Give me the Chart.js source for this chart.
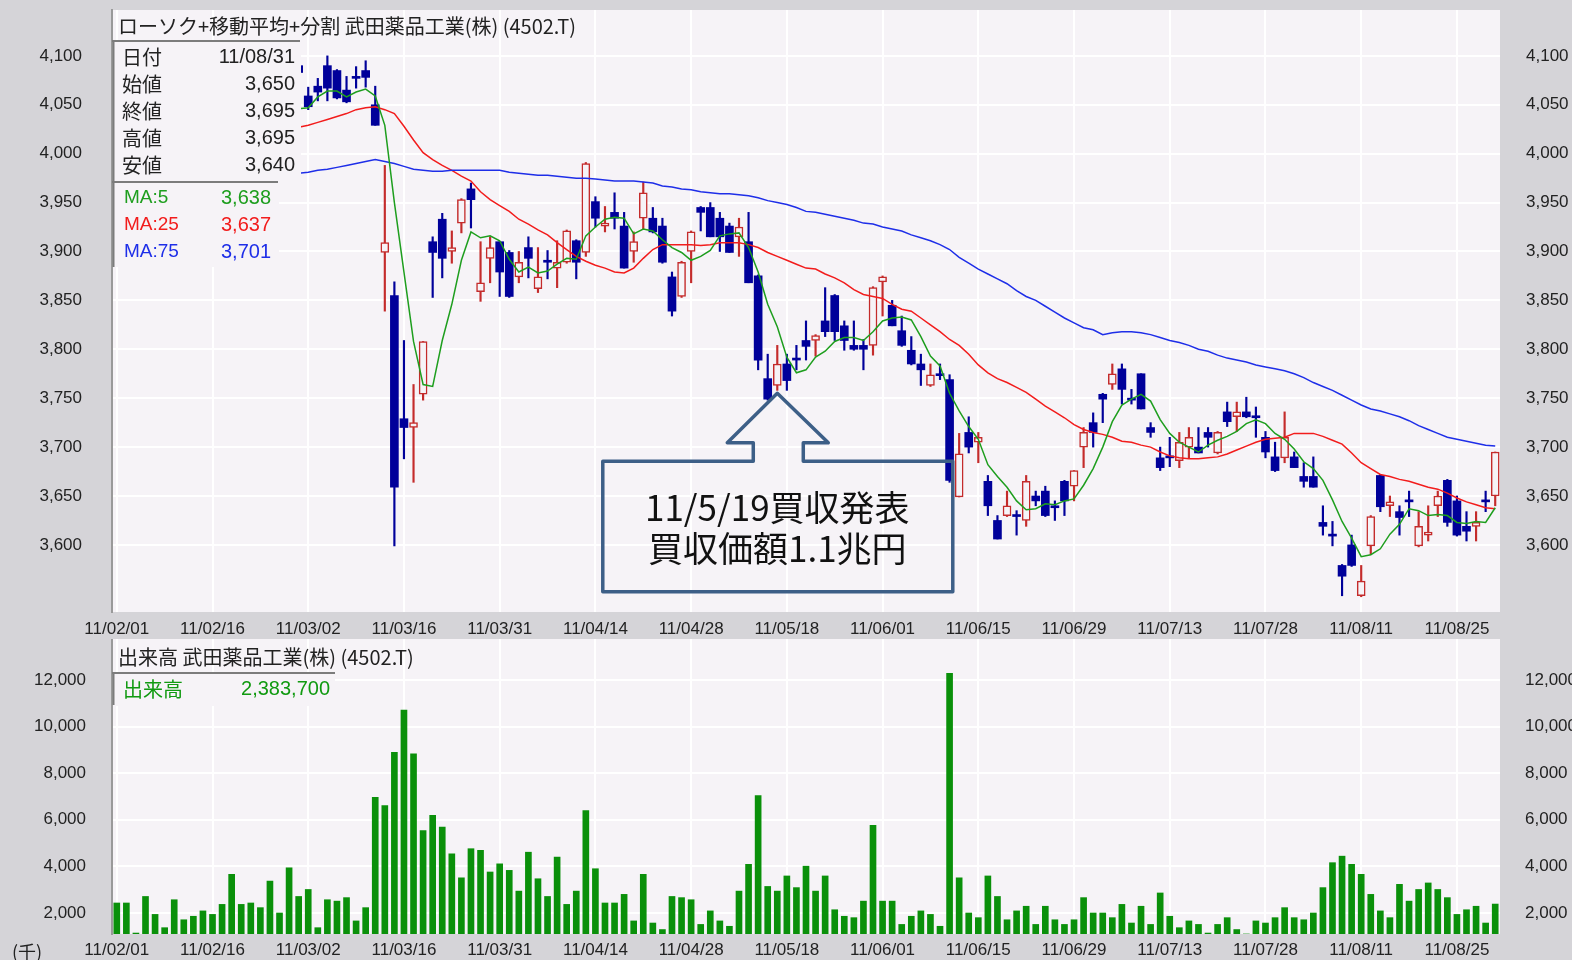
<!DOCTYPE html>
<html><head><meta charset="utf-8">
<script src="https://cdn.jsdelivr.net/npm/chart.js@4.4.1/dist/chart.umd.min.js"></script>
<style>
html,body{margin:0;padding:0;background:#d5d4d8;}
#wrap{position:relative;width:1572px;height:960px;overflow:hidden;background:#d5d4d8;}
#c1{position:absolute;left:0;top:0;}
#c2{position:absolute;left:0;top:639px;}
</style></head><body>
<div id="wrap">
<canvas id="c1" width="1572" height="639"></canvas>
<canvas id="c2" width="1572" height="321"></canvas>
</div>
<script>
// ---------- data ----------
const DATES = [
'11/02/01','11/02/02','11/02/03','11/02/04','11/02/07','11/02/08','11/02/09','11/02/10','11/02/14','11/02/15',
'11/02/16','11/02/17','11/02/18','11/02/21','11/02/22','11/02/23','11/02/24','11/02/25','11/02/28',
'11/03/01','11/03/02','11/03/03','11/03/04','11/03/07','11/03/08','11/03/09','11/03/10','11/03/11','11/03/14',
'11/03/15','11/03/16','11/03/17','11/03/18','11/03/22','11/03/23','11/03/24','11/03/25','11/03/28','11/03/29',
'11/03/30','11/03/31',
'11/04/01','11/04/04','11/04/05','11/04/06','11/04/07','11/04/08','11/04/11','11/04/12','11/04/13','11/04/14',
'11/04/15','11/04/18','11/04/19','11/04/20','11/04/21','11/04/22','11/04/25','11/04/26','11/04/27','11/04/28',
'11/05/02','11/05/06','11/05/09','11/05/10','11/05/11','11/05/12','11/05/13','11/05/16','11/05/17','11/05/18',
'11/05/19','11/05/20','11/05/23','11/05/24','11/05/25','11/05/26','11/05/27','11/05/30','11/05/31',
'11/06/01','11/06/02','11/06/03','11/06/06','11/06/07','11/06/08','11/06/09','11/06/10','11/06/13','11/06/14',
'11/06/15','11/06/16','11/06/17','11/06/20','11/06/21','11/06/22','11/06/23','11/06/24','11/06/27','11/06/28',
'11/06/29','11/06/30',
'11/07/01','11/07/04','11/07/05','11/07/06','11/07/07','11/07/08','11/07/11','11/07/12','11/07/13','11/07/14',
'11/07/15','11/07/19','11/07/20','11/07/21','11/07/22','11/07/25','11/07/26','11/07/27','11/07/28','11/07/29',
'11/08/01','11/08/02','11/08/03','11/08/04','11/08/05','11/08/08','11/08/09','11/08/10','11/08/11','11/08/12',
'11/08/15','11/08/16','11/08/17','11/08/18','11/08/19','11/08/22','11/08/23','11/08/24','11/08/25','11/08/26',
'11/08/29','11/08/30','11/08/31'
];
const DATE_TICKS = ['11/02/01','11/02/16','11/03/02','11/03/16','11/03/31','11/04/14','11/04/28','11/05/18',
'11/06/01','11/06/15','11/06/29','11/07/13','11/07/28','11/08/11','11/08/25'];

const N = null;
const OPEN = [N,N,N,N,N,N,N,N,N,N,N,N,N,N,N,N,N,N,N,
4090,4059,4069,4090,4085,4065,4079,4085,4050,3899,
3855,3729,3720,3754,3910,3933,3900,3929,3964,3859,
3893,3910,3899,3874,3904,3862,3890,3883,3889,3911,
3899,3951,3926,3940,3926,3900,3934,3934,3926,3874,
3854,3900,3945,3945,3934,3926,3915,3910,3875,3770,
3763,3785,3791,3809,3809,3829,3855,3824,3804,3804,
3804,3869,3845,3819,3799,3785,3763,3774,3769,3649,
3715,3705,3665,3625,3630,3630,3625,3650,3655,3640,
3665,3660,3700,3725,3754,3764,3780,3750,3775,3720,
3689,3690,3686,3700,3700,3715,3694,3736,3731,3736,
3731,3710,3690,3689,3690,3670,3670,3623,3610,3579,
3600,3548,3599,3671,3640,3634,3645,3599,3610,3640,
3666,3645,3619,3619,3645,3650];
const HIGH = [N,N,N,N,N,N,N,N,N,N,N,N,N,N,N,N,N,N,N,
4092,4068,4077,4100,4086,4079,4089,4095,4069,3988,
3869,3809,3764,3808,3915,3939,3921,3954,3970,3910,
3915,3910,3901,3900,3915,3904,3901,3911,3922,3912,
3991,3956,3946,3960,3940,3920,3971,3945,3934,3879,
3890,3921,3946,3950,3940,3929,3934,3940,3876,3795,
3804,3795,3804,3829,3815,3863,3856,3829,3829,3810,
3864,3875,3850,3834,3813,3795,3785,3785,3774,3714,
3731,3715,3671,3630,3655,3635,3671,3655,3660,3645,
3666,3676,3720,3735,3755,3785,3785,3759,3775,3725,
3700,3710,3715,3720,3720,3720,3716,3746,3746,3751,
3741,3716,3705,3736,3695,3684,3690,3640,3624,3580,
3610,3579,3630,3672,3650,3640,3655,3634,3640,3655,
3667,3650,3634,3634,3655,3695];
const LOW = [N,N,N,N,N,N,N,N,N,N,N,N,N,N,N,N,N,N,N,
4081,4045,4054,4054,4056,4052,4067,4068,4029,3839,
3599,3688,3664,3748,3853,3873,3888,3919,3924,3849,
3868,3854,3853,3868,3873,3858,3872,3863,3888,3872,
3895,3925,3920,3923,3883,3889,3923,3919,3888,3834,
3853,3868,3921,3915,3900,3899,3895,3868,3779,3748,
3758,3758,3779,3789,3793,3813,3809,3799,3799,3779,
3794,3834,3824,3803,3784,3763,3762,3769,3664,3649,
3694,3684,3630,3606,3629,3610,3619,3640,3629,3625,
3630,3645,3679,3700,3725,3759,3744,3744,3739,3710,
3676,3680,3679,3689,3694,3700,3693,3721,3716,3730,
3710,3689,3675,3684,3679,3659,3659,3610,3599,3548,
3578,3547,3590,3634,3629,3610,3629,3598,3604,3629,
3619,3609,3604,3604,3634,3640];
const CLOSE = [N,N,N,N,N,N,N,N,N,N,N,N,N,N,N,N,N,N,N,
4083,4048,4063,4067,4057,4053,4077,4078,4029,3909,
3659,3720,3725,3808,3899,3893,3904,3953,3953,3868,
3904,3879,3854,3889,3893,3874,3889,3889,3921,3889,
3990,3934,3929,3934,3883,3910,3960,3920,3889,3839,
3889,3920,3940,3915,3915,3899,3925,3868,3789,3749,
3785,3768,3789,3803,3814,3818,3818,3809,3800,3800,
3863,3874,3824,3804,3785,3779,3774,3773,3666,3693,
3700,3710,3640,3606,3640,3629,3665,3645,3630,3638,
3645,3676,3715,3715,3749,3775,3759,3748,3739,3715,
3679,3689,3705,3710,3694,3710,3715,3726,3736,3731,
3730,3695,3676,3710,3679,3665,3659,3619,3609,3568,
3579,3563,3629,3639,3644,3628,3644,3619,3613,3650,
3623,3610,3614,3623,3644,3695];
const MA5 = [N,N,N,N,N,N,N,N,N,N,N,N,N,N,N,N,N,N,N,
4046,4047,4058,4064,4064,4058,4063,4066,4059,4029,
3950,3879,3808,3764,3762,3809,3846,3891,3920,3914,
3916,3911,3892,3879,3884,3878,3880,3887,3893,3892,
3916,3925,3933,3935,3934,3918,3923,3921,3912,3904,
3899,3891,3895,3901,3916,3918,3919,3904,3879,3846,
3823,3792,3776,3779,3792,3798,3808,3812,3812,3809,
3818,3829,3832,3833,3830,3813,3793,3783,3755,3737,
3721,3708,3682,3670,3659,3645,3636,3637,3642,3641,
3645,3647,3661,3678,3700,3726,3743,3749,3754,3747,
3728,3714,3705,3700,3695,3702,3707,3711,3716,3724,
3728,3724,3714,3708,3698,3685,3678,3666,3646,3624,
3607,3588,3590,3596,3611,3621,3637,3635,3630,3631,
3630,3623,3622,3624,3623,3638];
const MA25 = [N,N,N,N,N,N,N,N,N,N,N,N,N,N,N,N,N,N,N,
4027,4029,4032,4035,4038,4041,4045,4047,4048,4045,
4041,4028,4014,4001,3994,3988,3983,3977,3972,3961,
3953,3947,3941,3933,3928,3922,3917,3909,3902,3895,
3890,3886,3883,3879,3878,3883,3893,3902,3907,3907,
3907,3907,3906,3907,3909,3909,3909,3907,3904,3899,
3895,3891,3887,3883,3882,3877,3873,3868,3861,3856,
3854,3852,3846,3841,3839,3832,3825,3818,3810,3804,
3795,3784,3776,3770,3766,3761,3756,3749,3742,3736,
3730,3723,3718,3715,3713,3710,3706,3705,3702,3700,
3695,3691,3689,3688,3688,3689,3690,3693,3697,3701,
3705,3708,3709,3710,3714,3714,3714,3711,3707,3703,
3694,3684,3678,3672,3670,3667,3665,3662,3659,3657,
3653,3648,3644,3641,3638,3637];
const MA75 = [N,N,N,N,N,N,N,N,N,N,N,N,N,N,N,N,N,N,N,
3980,3981,3983,3984,3986,3988,3990,3992,3994,3992,
3990,3987,3984,3983,3982,3982,3983,3983,3983,3983,
3983,3983,3981,3980,3979,3978,3978,3977,3976,3975,
3975,3974,3973,3972,3972,3972,3971,3970,3967,3966,
3964,3963,3961,3960,3959,3959,3958,3957,3955,3952,
3950,3948,3945,3941,3940,3938,3936,3934,3932,3929,
3928,3925,3923,3921,3917,3914,3911,3907,3902,3894,
3888,3882,3877,3872,3867,3860,3854,3850,3844,3838,
3832,3827,3822,3820,3815,3817,3818,3818,3817,3815,
3812,3809,3807,3804,3800,3798,3794,3791,3789,3787,
3784,3782,3780,3778,3775,3771,3766,3762,3758,3753,
3748,3743,3739,3737,3734,3731,3727,3722,3718,3714,
3710,3708,3706,3704,3702,3701];
const VOLUME = [
2430,2430,1140,2710,1940,1370,2570,1710,1860,2090,
1940,2370,3660,2370,2430,2230,3370,2000,3940,2710,
3010,1370,2570,2510,2660,1660,2230,6970,6610,8900,
10710,8830,5540,6190,5690,4540,3510,4760,4690,3760,
4110,3830,2940,4610,3470,2710,4400,2370,2940,6400,
3900,2430,2430,2800,1660,3660,1570,1290,2710,2660,
2570,1510,2090,1660,1430,2940,4090,7040,3140,2940,
3590,3090,4010,2940,3590,2140,1860,1800,2510,5760,
2510,2510,1510,1860,2090,1940,1430,12290,3510,2000,
1800,3590,2710,1710,2090,2290,1510,2290,1710,1510,
1710,2660,2000,2000,1800,2370,1570,2290,1510,2860,
1860,1370,1660,1510,1140,1510,1800,1290,1100,1660,
1570,1800,2230,1800,1710,2000,3090,4160,4440,4090,
3660,2800,2090,1800,3230,2510,3010,3290,3010,2660,
1940,2140,2290,1570,2384];
const PRICE_TICKS = [3600,3650,3700,3750,3800,3850,3900,3950,4000,4050,4100];
const VOLUME_TICKS = [2000,4000,6000,8000,10000,12000];
const PRICE_MIN = 3531.4, PRICE_MAX = 4146.9;
const VOL_MIN = 1099, VOL_MAX = 13760;
const INFO_ROWS = [['日付','11/08/31'],['始値','3,650'],['終値','3,695'],['高値','3,695'],['安値','3,640']];
const MA_ROWS = [['MA:5','3,638'],['MA:25','3,637'],['MA:75','3,701']];
const VOLUME_INFO = '2,383,700';
const ANNOT_INDEX = 69, ANNOT_PRICE = 3755;
const ANNOT_LINES = ['11/5/19買収発表','買収価額1.1兆円'];

// ---------- style ----------
const PAGE_BG = '#d5d4d8', PLOT_BG = '#f6f3f7', GRID = '#ffffff', TXT = '#222222';
const UP = '#c42b2b', DOWN = '#00009a';
const C_MA5 = '#1e9e1e', C_MA25 = '#f21c1c', C_MA75 = '#1e2ee8';
const VOL_COLOR = '#0a900a';
const JP = '"Noto Sans CJK JP", sans-serif';
const LAT = '"Liberation Sans", Arial, sans-serif';
Chart.defaults.font.family = LAT;
Chart.defaults.font.size = 17;
Chart.defaults.color = TXT;

const fmt = v => Number(v).toLocaleString('en-US');
const isUp = i => CLOSE[i] != null && CLOSE[i] >= OPEN[i];

const bgPlugin = {
  id: 'bgfill',
  beforeDraw(chart) {
    const {ctx, chartArea: a} = chart;
    ctx.save();
    ctx.fillStyle = PAGE_BG; ctx.fillRect(0, 0, chart.width, chart.height);
    ctx.fillStyle = PLOT_BG; ctx.fillRect(a.left, a.top, a.right - a.left, a.bottom - a.top);
    ctx.restore();
  }
};

const priceInfoPlugin = {
  id: 'priceinfo',
  afterDraw(chart) {
    const ctx = chart.ctx;
    const a = chart.chartArea;
    ctx.save();
    ctx.fillStyle = TXT; ctx.font = '20px ' + JP; ctx.textBaseline = 'middle'; ctx.textAlign = 'left';
    ctx.fillText('ローソク+移動平均+分割 武田薬品工業(株) (4502.T)', a.left + 6, 26);
    ctx.fillStyle = PLOT_BG;
    ctx.fillRect(a.left + 1, 41, 188, 140);
    ctx.fillRect(a.left + 1, 182, 166, 85);
    ctx.strokeStyle = '#7c7c7c'; ctx.lineWidth = 2;
    ctx.beginPath();
    ctx.moveTo(a.left, 41); ctx.lineTo(a.left + 188, 41);
    ctx.moveTo(a.left, 182); ctx.lineTo(a.left + 166, 182);
    ctx.moveTo(a.left + 1.5, 41); ctx.lineTo(a.left + 1.5, 267);
    ctx.stroke();
    INFO_ROWS.forEach((r, k) => {
      const y = 57 + k * 27;
      ctx.fillStyle = TXT;
      ctx.font = '20px ' + JP; ctx.textAlign = 'left'; ctx.fillText(r[0], a.left + 10, y);
      ctx.font = '20px ' + LAT; ctx.textAlign = 'right'; ctx.fillText(r[1], a.left + 183, y);
    });
    const maCols = [C_MA5, C_MA25, C_MA75];
    MA_ROWS.forEach((r, k) => {
      const y = 198 + k * 27;
      ctx.fillStyle = maCols[k]; ctx.font = '19px ' + LAT;
      ctx.textAlign = 'left'; ctx.fillText(r[0], a.left + 12, y);
      ctx.font = '20px ' + LAT;
      ctx.textAlign = 'right'; ctx.fillText(r[1], a.left + 159, y);
    });
    // annotation callout anchored to a candle through the scales
    const tx = chart.scales.x.getPixelForValue(ANNOT_INDEX);
    const ty = chart.scales.y.getPixelForValue(ANNOT_PRICE);
    const headY = ty + 49.5, boxT = ty + 68, boxB = ty + 198.5, boxL = tx - 174.5, boxR = tx + 175.5;
    ctx.strokeStyle = '#3d5f87'; ctx.lineWidth = 3.5; ctx.lineJoin = 'round';
    ctx.beginPath();
    ctx.moveTo(boxL, boxT);
    ctx.lineTo(tx - 24, boxT); ctx.lineTo(tx - 24, headY); ctx.lineTo(tx - 50, headY);
    ctx.lineTo(tx, ty);
    ctx.lineTo(tx + 51, headY); ctx.lineTo(tx + 26, headY); ctx.lineTo(tx + 26, boxT);
    ctx.lineTo(boxR, boxT); ctx.lineTo(boxR, boxB); ctx.lineTo(boxL, boxB); ctx.closePath();
    ctx.stroke();
    ctx.fillStyle = '#111111'; ctx.font = '35px ' + JP; ctx.textAlign = 'center'; ctx.textBaseline = 'middle';
    ctx.fillText(ANNOT_LINES[0], tx, ty + 114);
    ctx.fillText(ANNOT_LINES[1], tx, ty + 155);
    ctx.restore();
  }
};

const volInfoPlugin = {
  id: 'volinfo',
  afterDraw(chart) {
    const ctx = chart.ctx, a = chart.chartArea;
    ctx.save();
    ctx.textBaseline = 'middle';
    ctx.fillStyle = TXT; ctx.font = '20px ' + JP; ctx.textAlign = 'left';
    ctx.fillText('出来高 武田薬品工業(株) (4502.T)', a.left + 6, 18);
    ctx.fillStyle = PLOT_BG; ctx.fillRect(a.left + 1, 35, 222, 32);
    ctx.strokeStyle = '#7c7c7c'; ctx.lineWidth = 2;
    ctx.beginPath();
    ctx.moveTo(a.left, 34); ctx.lineTo(a.left + 223, 34);
    ctx.moveTo(a.left + 1.5, 34); ctx.lineTo(a.left + 1.5, 66);
    ctx.stroke();
    ctx.fillStyle = '#119a11';
    ctx.font = '20px ' + JP; ctx.textAlign = 'left'; ctx.fillText('出来高', a.left + 11, 50);
    ctx.font = '20px ' + LAT; ctx.textAlign = 'right'; ctx.fillText(VOLUME_INFO, a.left + 218, 50);
    ctx.fillStyle = TXT; ctx.font = '18px ' + JP; ctx.textAlign = 'left';
    ctx.fillText('(千)', 12, 313);
    ctx.restore();
  }
};

// fixed axis sizes, no auto padding from label overflow
const fixV = w => s => { s.width = w; s.paddingTop = 0; s.paddingBottom = 0; s.paddingLeft = 0; s.paddingRight = 0; };
const fixH = h => s => { s.height = h; s.paddingLeft = 0; s.paddingRight = 0; s.paddingTop = 0; s.paddingBottom = 0; };

const xScale = (h, pad) => ({
  type: 'category', offset: true,
  grid: {offset: false, color: GRID, lineWidth: 2, drawTicks: false},
  border: {display: false},
  ticks: {autoSkip: false, maxRotation: 0, minRotation: 0, padding: pad, color: TXT, font: {size: 17}},
  afterBuildTicks: s => { s.ticks = s.ticks.filter(t => DATE_TICKS.includes(DATES[t.value])); },
  afterFit: fixH(h)
});

// ---------- price chart ----------
new Chart(document.getElementById('c1'), {
  type: 'bar',
  data: {
    labels: DATES,
    datasets: [
      {type: 'bar', label: 'wick', data: DATES.map((d, i) => HIGH[i] == null ? null : [LOW[i], HIGH[i]]),
       backgroundColor: c => isUp(c.dataIndex) ? UP : DOWN, borderWidth: 0, barThickness: 1.5, grouped: false, order: 3},
      {type: 'bar', label: 'body', data: DATES.map((d, i) => OPEN[i] == null ? null : [OPEN[i], CLOSE[i]]),
       backgroundColor: c => isUp(c.dataIndex) ? PLOT_BG : DOWN,
       borderColor: c => isUp(c.dataIndex) ? UP : DOWN,
       borderWidth: c => isUp(c.dataIndex) ? 1.5 : 0, borderSkipped: false,
       barThickness: 8, minBarLength: 2, grouped: false, order: 2},
      {type: 'line', label: 'MA:75', data: MA75, borderColor: C_MA75, borderWidth: 1.5, pointRadius: 0, tension: 0, order: 1},
      {type: 'line', label: 'MA:25', data: MA25, borderColor: C_MA25, borderWidth: 1.5, pointRadius: 0, tension: 0, order: 1},
      {type: 'line', label: 'MA:5', data: MA5, borderColor: C_MA5, borderWidth: 1.5, pointRadius: 0, tension: 0, order: 0}
    ]
  },
  options: {
    responsive: false, animation: false,
    layout: {autoPadding: false, padding: {top: 10, left: 0, right: 0, bottom: 0}},
    plugins: {legend: {display: false}, tooltip: {enabled: false}},
    scales: {
      x: xScale(27, 7),
      y: {position: 'left', min: PRICE_MIN, max: PRICE_MAX,
          afterBuildTicks: s => { s.ticks = PRICE_TICKS.map(v => ({value: v})); },
          grid: {color: GRID, lineWidth: 2, drawTicks: false},
          border: {display: true, color: '#9a9a9a', width: 2},
          ticks: {padding: 30, color: TXT, font: {size: 17}, callback: v => fmt(v)},
          afterFit: fixV(112)},
      y2: {position: 'right', min: PRICE_MIN, max: PRICE_MAX,
          afterBuildTicks: s => { s.ticks = PRICE_TICKS.map(v => ({value: v})); },
          grid: {display: false, drawTicks: false}, border: {display: false},
          ticks: {padding: 26, color: TXT, font: {size: 17}, callback: v => fmt(v)},
          afterFit: fixV(72)}
    }
  },
  plugins: [bgPlugin, priceInfoPlugin]
});

// ---------- volume chart ----------
new Chart(document.getElementById('c2'), {
  type: 'bar',
  data: {
    labels: DATES,
    datasets: [{label: '出来高', data: VOLUME, backgroundColor: VOL_COLOR, borderWidth: 0, barThickness: 6}]
  },
  options: {
    responsive: false, animation: false,
    layout: {autoPadding: false, padding: 0},
    plugins: {legend: {display: false}, tooltip: {enabled: false}},
    scales: {
      x: xScale(26, 6),
      y: {position: 'left', min: VOL_MIN, max: VOL_MAX,
          afterBuildTicks: s => { s.ticks = VOLUME_TICKS.map(v => ({value: v})); },
          grid: {color: GRID, lineWidth: 2, drawTicks: false},
          border: {display: true, color: '#9a9a9a', width: 2},
          ticks: {padding: 26, color: TXT, font: {size: 17}, callback: v => fmt(v)},
          afterFit: fixV(112)},
      y2: {position: 'right', min: VOL_MIN, max: VOL_MAX,
          afterBuildTicks: s => { s.ticks = VOLUME_TICKS.map(v => ({value: v})); },
          grid: {display: false, drawTicks: false}, border: {display: false},
          ticks: {padding: 25, color: TXT, font: {size: 17}, callback: v => fmt(v)},
          afterFit: fixV(72)}
    }
  },
  plugins: [bgPlugin, volInfoPlugin]
});
</script>
</body></html>
